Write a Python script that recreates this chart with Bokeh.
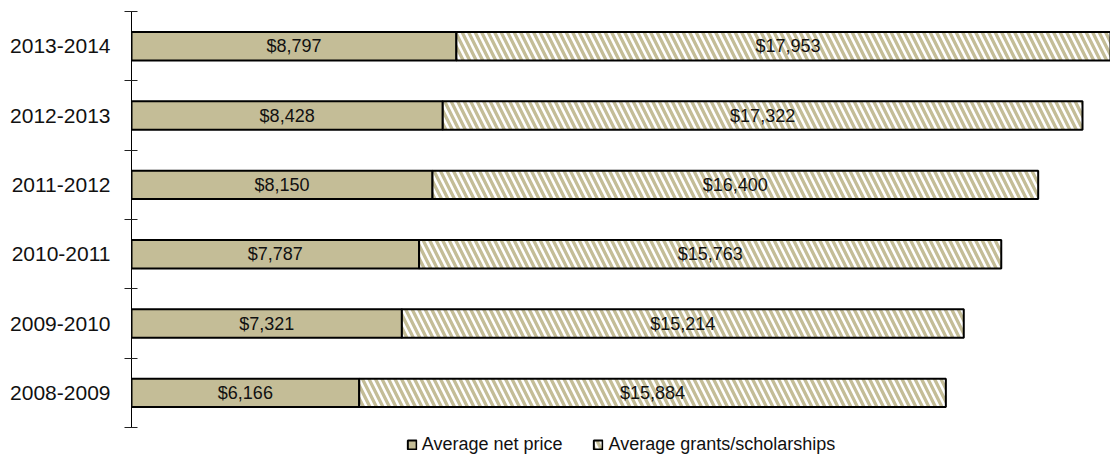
import numpy as np
from bokeh.plotting import figure
from bokeh.models import (ColumnDataSource, LinearAxis, FixedTicker, Range1d,
                          Legend, LegendItem)
from bokeh.core.properties import value
from bokeh.embed import file_html
from bokeh.resources import INLINE

# ---- data (bottom to top) ----
years = ["2008-2009", "2009-2010", "2010-2011", "2011-2012", "2012-2013", "2013-2014"]
net_price = [6166, 7321, 7787, 8150, 8428, 8797]
grants = [15884, 15214, 15763, 16400, 17322, 17953]
series_names = ["Average net price", "Average grants/scholarships"]

FONT = "Liberation Sans"
TAN = "#C4BD97"

ys = np.arange(len(years)) + 0.5
net = np.array(net_price, dtype=float)
gr = np.array(grants, dtype=float)

src = ColumnDataSource(dict(
    y=ys,
    net=net,
    left2=net,
    right2=net + gr,
    mid1=net / 2,
    mid2=net + gr / 2,
    lab1=["${:,}".format(v) for v in net_price],
    lab2=["${:,}".format(v) for v in grants],
))

p = figure(width=1110, height=456, output_backend="svg", toolbar_location=None,
           x_axis_location=None, y_axis_location=None,
           x_range=Range1d(0, 26508), y_range=Range1d(-0.418, len(years)),
           min_border_left=131, min_border_right=0, min_border_top=11,
           min_border_bottom=0)
p.outline_line_color = None
p.xgrid.visible = False
p.ygrid.visible = False
p.background_fill_color = "white"
p.border_fill_color = "white"

BAR_H = 0.41
r1 = p.hbar(y="y", left=0, right="net", height=BAR_H, source=src,
            fill_color=TAN, line_color="black", line_width=2)
r2 = p.hbar(y="y", left="left2", right="right2", height=BAR_H, source=src,
            fill_color="white", hatch_pattern="\\", hatch_color=TAN,
            hatch_scale=13, hatch_weight=3.3,
            line_color="black", line_width=2)

p.text(x="mid1", y="y", text="lab1", source=src, text_align="center",
       text_baseline="middle", text_font=value(FONT), text_font_size="18px",
       text_color="#111111")
p.text(x="mid2", y="y", text="lab2", source=src, text_align="center",
       text_baseline="middle", text_font=value(FONT), text_font_size="18px",
       text_color="#111111")

ax = LinearAxis(bounds=(0, len(years)))
ax.ticker = FixedTicker(ticks=list(ys), minor_ticks=list(range(len(years) + 1)))
ax.major_label_overrides = {float(y): lab for y, lab in zip(ys, years)}
ax.major_tick_line_color = None
ax.major_tick_in = 0
ax.major_tick_out = 0
ax.minor_tick_line_color = "#222222"
ax.minor_tick_in = 6
ax.minor_tick_out = 7
ax.axis_line_color = "black"
ax.axis_line_width = 1
ax.major_label_standoff = 14
ax.major_label_text_font = FONT
ax.major_label_text_font_size = "21px"
ax.major_label_text_color = "#111111"
p.add_layout(ax, "left")

legend = Legend(items=[LegendItem(label=series_names[0], renderers=[r1]),
                       LegendItem(label=series_names[1], renderers=[r2])],
                orientation="horizontal", location="bottom_center",
                label_text_font=FONT, label_text_font_size="18px",
                label_text_color="#111111",
                glyph_width=11, glyph_height=11, label_standoff=5,
                spacing=30, padding=0, margin=1, label_height=18,
                border_line_color=None, background_fill_alpha=0)
p.add_layout(legend, "center")

open("out.html", "w").write(file_html(p, INLINE))
